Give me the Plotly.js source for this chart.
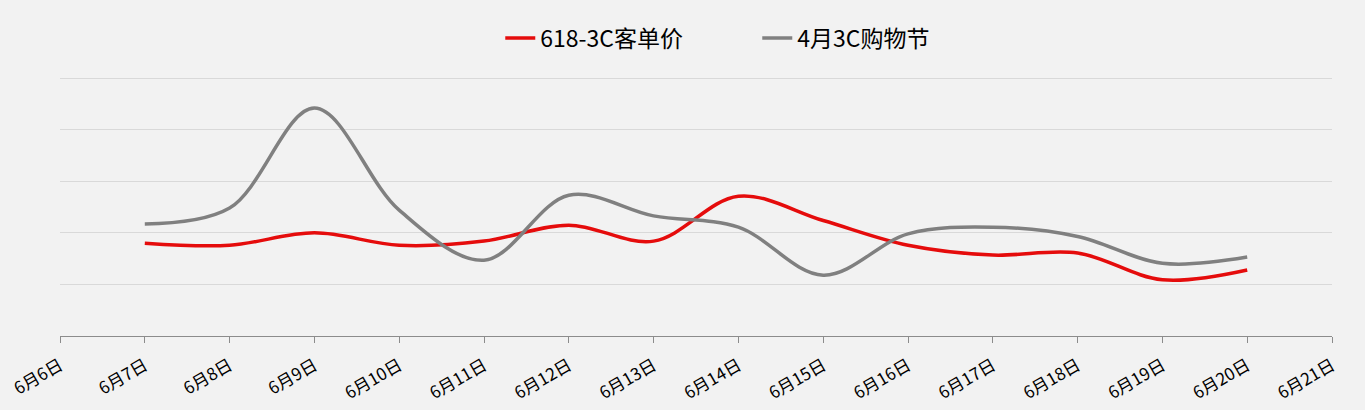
<!DOCTYPE html>
<html>
<head>
<meta charset="utf-8">
<script src="https://cdn.plot.ly/plotly-3.0.1.min.js"></script>
<style>html,body{margin:0;padding:0;background:#f2f2f2;}#chart{width:1365px;height:410px;}</style>
</head>
<body>
<div id="chart"></div>
<script>
const categories = ["6月6日","6月7日","6月8日","6月9日","6月10日","6月11日","6月12日","6月13日","6月14日","6月15日","6月16日","6月17日","6月18日","6月19日","6月20日","6月21日"];
const seriesDays = ["6月7日","6月8日","6月9日","6月10日","6月11日","6月12日","6月13日","6月14日","6月15日","6月16日","6月17日","6月18日","6月19日","6月20日"];
const series618 = [1.80, 1.76, 2.00, 1.76, 1.84, 2.15, 1.84, 2.71, 2.24, 1.76, 1.57, 1.61, 1.09, 1.28];
const seriesApril = [2.17, 2.48, 4.42, 2.44, 1.47, 2.73, 2.33, 2.11, 1.18, 1.98, 2.11, 1.93, 1.41, 1.53];
const seriesNames = ["618-3C客单价", "4月3C购物节"];

const font = "'Microsoft YaHei','Noto Sans CJK SC','Noto Sans',sans-serif";

const traces = [
  {x: seriesDays, y: series618, name: seriesNames[0], type: 'scatter', mode: 'lines',
   line: {color: '#e50c0c', width: 3.5, shape: 'spline', smoothing: 1}},
  {x: seriesDays, y: seriesApril, name: seriesNames[1], type: 'scatter', mode: 'lines',
   line: {color: '#808080', width: 3.5, shape: 'spline', smoothing: 1}}
];

const layout = {
  width: 1365, height: 410,
  paper_bgcolor: '#f2f2f2', plot_bgcolor: '#f2f2f2',
  margin: {l: 60, r: 33, t: 73, b: 74},
  font: {family: font, color: '#000'},
  showlegend: true,
  legend: {orientation: 'h', x: 0.3665, xanchor: 'left', xref: 'container',
    y: 0.907, yanchor: 'middle', yref: 'container',
    font: {size: 23, color: '#000', family: font},
    bgcolor: 'rgba(0,0,0,0)', entrywidth: 212, traceorder: 'normal'},
  xaxis: {type: 'category', categoryorder: 'array', categoryarray: categories,
    tickvals: categories, ticktext: categories,
    range: [0, 15], tickangle: -30, tickfont: {size: 17, color: '#000', family: font},
    ticklabelstandoff: 6,
    showgrid: false, zeroline: false, showline: true, linecolor: '#8c8c8c', linewidth: 1.2,
    ticks: 'outside', ticklen: 6, tickcolor: '#8c8c8c', fixedrange: true},
  yaxis: {range: [0, 5.1], tickvals: [1, 2, 3, 4, 5], showticklabels: false, showgrid: true,
    gridcolor: '#d9d9d9', gridwidth: 1, zeroline: false, showline: false, ticks: ''}
};

Plotly.newPlot('chart', traces, layout, {displayModeBar: false, staticPlot: true});
</script>
</body>
</html>
